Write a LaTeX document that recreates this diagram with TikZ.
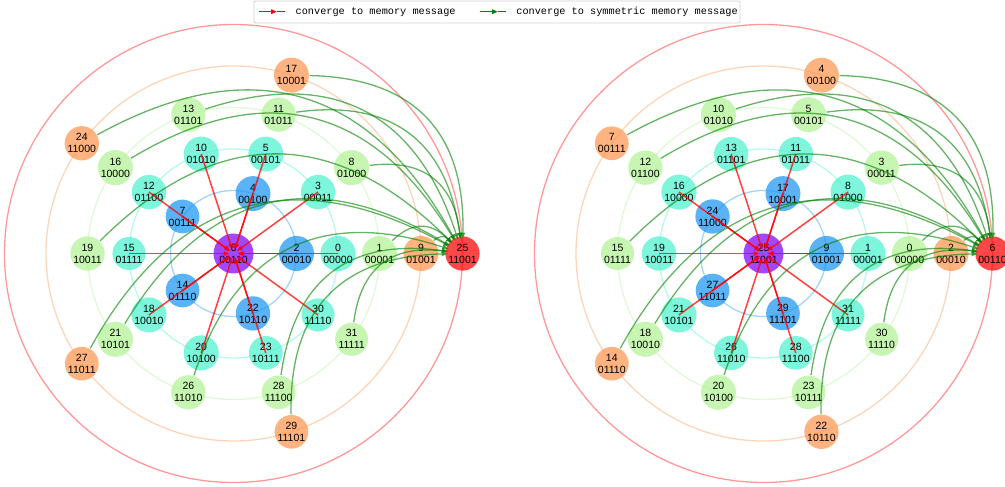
\documentclass[tikz,border=0pt]{standalone}
\usepackage{fontspec}
\setmainfont{Liberation Sans}
\newfontfamily\legendfont{Liberation Mono}
\usetikzlibrary{arrows.meta}

% rainbow colours, one per Hamming distance
\definecolor{hd0}{rgb}{0.50,0.00,1.00}
\definecolor{hd1}{rgb}{0.10,0.59,0.95}
\definecolor{hd2}{rgb}{0.30,0.95,0.81}
\definecolor{hd3}{rgb}{0.70,0.95,0.59}
\definecolor{hd4}{rgb}{1.00,0.59,0.31}
\definecolor{hd5}{rgb}{1.00,0.00,0.00}
\definecolor{memred}{rgb}{1,0,0}
\definecolor{symgreen}{rgb}{0,0.5,0}

\tikzset{every picture/.style={line width=1.3pt}}
\tikzset{
  msg/.style={circle, inner sep=0pt, minimum size=33pt, fill=#1, fill opacity=0.72,
    text opacity=1, align=center, font=\fontsize{10.5}{12}\selectfont},
  memory/.style={msg=hd0, minimum size=40pt},
  ring/.style={draw=#1, draw opacity=0.4},
  tomem/.style={draw=memred, opacity=0.75, line width=1.5pt,
    -{Triangle[length=6pt,width=4.5pt]}, shorten >=4pt},
  tosym/.style={draw=symgreen, opacity=0.6, -{Triangle[length=6pt,width=4.5pt]},
    shorten >=-3pt, bend left=45, looseness=1.2},
  legendtext/.style={font=\legendfont\fontsize{10.25}{12}\selectfont, anchor=west, inner sep=0pt}
}

\begin{document}
\begin{tikzpicture}[x=1pt,y=1pt]
	\useasboundingbox (0,0) rectangle (1005,487);

	% Legend
	\draw [draw=black!18, line width=0.8pt, rounded corners=2pt] (254,464) rectangle (740,486);
	\coordinate (memA) at (259,475.3);
	\coordinate (memM) at (277,475.3);
	\coordinate (memB) at (285,475.3);
	\draw [memred, line width=1.5pt, -{Triangle[length=6pt,width=4.5pt]}] (memA) -- (memM);
	\draw [memred, line width=1.5pt] (memM) -- (memB);
	\node [legendtext] (memtext) at (295,475.3) {converge to memory message};
	\coordinate (symA) at (480,475.3);
	\coordinate (symM) at (498,475.3);
	\coordinate (symB) at (506,475.3);
	\draw [symgreen, line width=1.5pt, -{Triangle[length=6pt,width=4.5pt]}] (symA) -- (symM);
	\draw [symgreen, line width=1.5pt] (symM) -- (symB);
	\node [legendtext] (symtext) at (515.7,475.3) {converge to symmetric memory message};

	% Left: memory message 6
	\begin{scope}[shift={(233.5,233.5)}]
		\foreach \r/\c in {63/hd1,104.5/hd2,146/hd3,187.5/hd4,229/hd5}
			\draw [ring=\c] (0,0) circle [radius=\r];
		\node [memory] (l6) at (0,0) {6\\00110};
		\foreach \msgid/\bits [count=\i from 0] in {2/00010,4/00100,7/00111,14/01110,22/10110}
			\node [msg=hd1] (l\msgid) at ({72*\i}:63) {\msgid\\\bits};
		\foreach \msgid/\bits [count=\i from 0] in {0/00000,3/00011,5/00101,10/01010,12/01100,15/01111,18/10010,20/10100,23/10111,30/11110}
			\node [msg=hd2] (l\msgid) at ({36*\i}:104.5) {\msgid\\\bits};
		\foreach \msgid/\bits [count=\i from 0] in {1/00001,8/01000,11/01011,13/01101,16/10000,19/10011,21/10101,26/11010,28/11100,31/11111}
			\node [msg=hd3] (l\msgid) at ({36*\i}:146) {\msgid\\\bits};
		\foreach \msgid/\bits [count=\i from 0] in {9/01001,17/10001,24/11000,27/11011,29/11101}
			\node [msg=hd4] (l\msgid) at ({72*\i}:187.5) {\msgid\\\bits};
		\node [msg=hd5] (l25) at (0:229) {25\\11001};
	\end{scope}

	% Right: memory message 25
	\begin{scope}[shift={(763.5,233.5)}]
		\foreach \r/\c in {63/hd1,104.5/hd2,146/hd3,187.5/hd4,229/hd5}
			\draw [ring=\c] (0,0) circle [radius=\r];
		\node [memory] (r25) at (0,0) {25\\11001};
		\foreach \msgid/\bits [count=\i from 0] in {9/01001,17/10001,24/11000,27/11011,29/11101}
			\node [msg=hd1] (r\msgid) at ({72*\i}:63) {\msgid\\\bits};
		\foreach \msgid/\bits [count=\i from 0] in {1/00001,8/01000,11/01011,13/01101,16/10000,19/10011,21/10101,26/11010,28/11100,31/11111}
			\node [msg=hd2] (r\msgid) at ({36*\i}:104.5) {\msgid\\\bits};
		\foreach \msgid/\bits [count=\i from 0] in {0/00000,3/00011,5/00101,10/01010,12/01100,15/01111,18/10010,20/10100,23/10111,30/11110}
			\node [msg=hd3] (r\msgid) at ({36*\i}:146) {\msgid\\\bits};
		\foreach \msgid/\bits [count=\i from 0] in {2/00010,4/00100,7/00111,14/01110,22/10110}
			\node [msg=hd4] (r\msgid) at ({72*\i}:187.5) {\msgid\\\bits};
		\node [msg=hd5] (r6) at (0:229) {6\\00110};
	\end{scope}

	% Straight Lines: converge to memory message
	\foreach \msgid in {2,4,7,14,22,0,3,5,10,12,15,18,20,23,30}
		\draw [tomem] (l\msgid.center) -- (l6.center);
	\foreach \msgid in {9,17,24,27,29,1,8,11,13,16,19,21,26,28,31}
		\draw [tomem] (r\msgid.center) -- (r25.center);

	% Curves: converge to symmetric memory message
	\foreach \msgid in {1,8,11,13,16,19,21,26,28,31,9,17,24,27,29}
		\draw [tosym] (l\msgid) to (l25);
	\foreach \msgid in {0,3,5,10,12,15,18,20,23,30,2,4,7,14,22}
		\draw [tosym] (r\msgid) to (r6);

\end{tikzpicture}
\end{document}
